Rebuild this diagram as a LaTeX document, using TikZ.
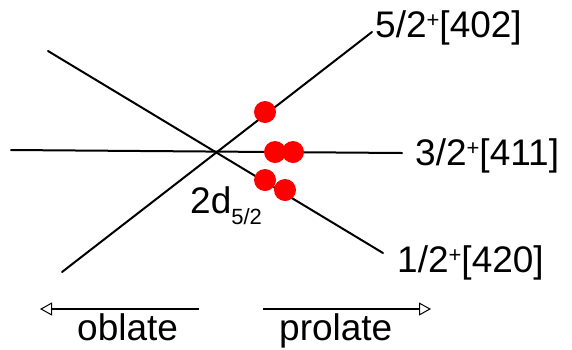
\documentclass[tikz,border=0pt]{standalone}
\usepackage{fontspec}
\setmainfont{Liberation Sans}
\usetikzlibrary{arrows.meta}
\newcommand{\supp}{\raisebox{10pt}{\fontsize{22}{22}\selectfont +}}
\begin{document}
\begin{tikzpicture}[x=1pt,y=-1pt,
  lvl/.style={line width=2pt, line cap=round},
  dot/.style={circle, fill=red, inner sep=0pt, minimum size=22pt},
  lab/.style={anchor=base west, inner sep=0pt, font=\fontsize{37}{40}\selectfont},
  dirarrow/.style={line width=2pt, -{Triangle[open, length=12pt, width=13pt, line width=1pt]}}]
\useasboundingbox (0,0) rectangle (572,349);
% level lines
\coordinate (a1) at (62,272); \coordinate (a2) at (372,32);
\coordinate (b1) at (11,150); \coordinate (b2) at (402,153);
\coordinate (c1) at (48,51);  \coordinate (c2) at (383,253);
\draw[lvl] (a1) -- (a2);
\draw[lvl] (b1) -- (b2);
\draw[lvl] (c1) -- (c2);
% dots
\node[dot] (d1) at (265,112) {};
\node[dot] (d2) at (275,152) {};
\node[dot] (d3) at (293,152) {};
\node[dot] (d4) at (265,180) {};
\node[dot] (d5) at (285,190) {};
% labels
\node[lab] (l1) at (375,37) {5/2\supp[402]};
\node[lab] (l2) at (415,165) {3/2\supp[411]};
\node[lab] (l3) at (397,272) {1/2\supp[420]};
\node[lab] (l4) at (190,213) {2d\raisebox{-11pt}{\fontsize{22}{22}\selectfont 5/2}};
% arrows
\coordinate (o1) at (199,309); \coordinate (o2) at (40,309);
\coordinate (p1) at (263,309); \coordinate (p2) at (431,309);
\draw[dirarrow] (o1) -- (o2);
\draw[dirarrow] (p1) -- (p2);
\node[lab] (ob) at (77,340) {oblate};
\node[lab] (pr) at (279,340) {prolate};
\end{tikzpicture}
\end{document}
